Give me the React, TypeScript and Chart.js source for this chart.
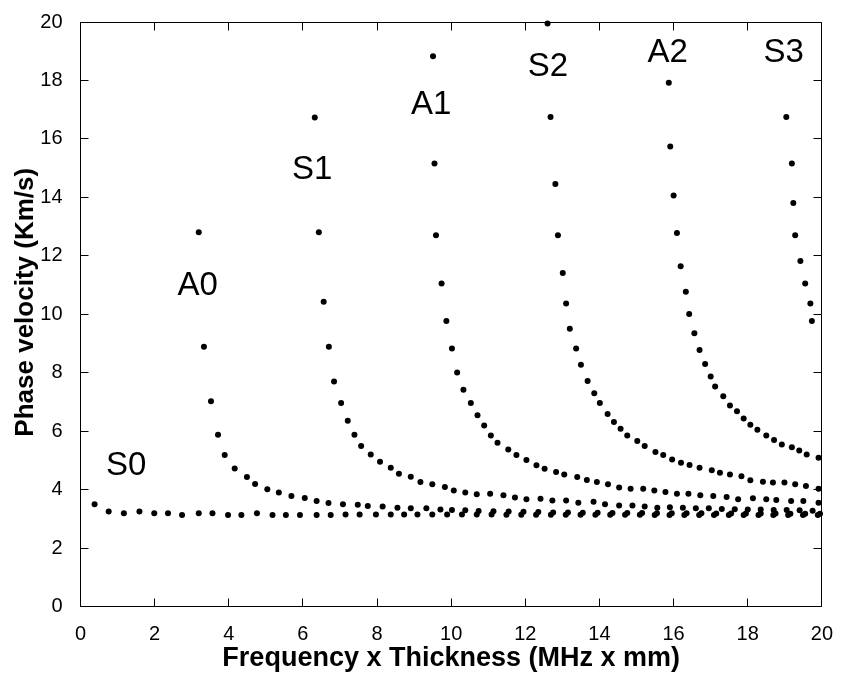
import React, { useEffect, useRef } from "react";
import { Chart, registerables } from "chart.js";

Chart.register(...registerables);

// ---- data (Frequency x Thickness [MHz mm], Phase velocity [km/s]) ----
const modeS0: [number, number][] = [
  [0.38, 3.5], [0.76, 3.25], [1.17, 3.19], [1.59, 3.25], [1.99, 3.19], [2.36, 3.19], [2.74, 3.13],
  [3.19, 3.19], [3.56, 3.19], [3.98, 3.13], [4.34, 3.13], [4.76, 3.19], [5.18, 3.13], [5.54, 3.13],
  [5.92, 3.13], [6.37, 3.13], [6.75, 3.13], [7.15, 3.15], [7.53, 3.15], [7.97, 3.15], [8.37, 3.15],
  [8.73, 3.15], [9.09, 3.15], [9.49, 3.15], [9.89, 3.15], [10.29, 3.15], [10.69, 3.15], [11.09, 3.15],
  [11.49, 3.14], [11.89, 3.14], [12.29, 3.14], [12.69, 3.14], [13.09, 3.14], [13.49, 3.14], [13.89, 3.14],
  [14.29, 3.14], [14.69, 3.14], [15.09, 3.14], [15.49, 3.13], [15.89, 3.13], [16.29, 3.13], [16.69, 3.13],
  [17.09, 3.13], [17.49, 3.13], [17.89, 3.13], [18.29, 3.13], [18.69, 3.13], [19.09, 3.13], [19.49, 3.13],
  [19.89, 3.13],
];

const modeA0: [number, number][] = [
  [3.19, 12.81], [3.33, 8.89], [3.52, 7.02], [3.71, 5.88], [3.89, 5.18], [4.16, 4.72], [4.49, 4.43],
  [4.71, 4.19], [5.04, 4.01], [5.35, 3.9], [5.69, 3.78], [6.05, 3.71], [6.37, 3.61], [6.69, 3.54],
  [7.08, 3.5], [7.48, 3.48], [7.75, 3.44], [8.15, 3.42], [8.55, 3.38], [8.91, 3.36], [9.33, 3.36],
  [9.71, 3.32], [10.02, 3.3], [10.38, 3.29], [10.74, 3.27], [11.14, 3.26], [11.55, 3.25], [11.95, 3.24],
  [12.35, 3.23], [12.75, 3.22], [13.15, 3.22], [13.55, 3.21], [13.95, 3.21], [14.35, 3.2], [14.75, 3.2],
  [15.15, 3.2], [15.55, 3.19], [15.95, 3.19], [16.35, 3.19], [16.75, 3.19], [17.15, 3.18], [17.55, 3.18],
  [17.95, 3.18], [18.35, 3.18], [18.75, 3.18], [19.15, 3.17], [19.55, 3.17], [19.95, 3.17],
];

const modeS1: [number, number][] = [
  [6.32, 16.73], [6.43, 12.81], [6.56, 10.43], [6.7, 8.89], [6.84, 7.7], [7.03, 6.96], [7.21, 6.36],
  [7.39, 5.88], [7.57, 5.49], [7.83, 5.2], [8.08, 4.95], [8.37, 4.75], [8.59, 4.54], [8.91, 4.44],
  [9.17, 4.26], [9.49, 4.18], [9.83, 4.09], [10.07, 3.97], [10.38, 3.9], [10.69, 3.84], [11.05, 3.86],
  [11.41, 3.81], [11.72, 3.73], [12.03, 3.67], [12.41, 3.69], [12.73, 3.63], [13.1, 3.63], [13.43, 3.55],
  [13.84, 3.58], [14.15, 3.5], [14.53, 3.46], [14.89, 3.46], [15.22, 3.42], [15.56, 3.38], [15.9, 3.4],
  [16.25, 3.38], [16.6, 3.36], [16.95, 3.36], [17.3, 3.34], [17.65, 3.33], [18.0, 3.32], [18.35, 3.32],
  [18.7, 3.3], [19.05, 3.3], [19.4, 3.29], [19.75, 3.28],
];

const modeA1: [number, number][] = [
  [9.51, 18.83], [9.55, 15.16], [9.59, 12.7], [9.74, 11.05], [9.87, 9.77], [10.02, 8.83], [10.16, 8.01],
  [10.33, 7.42], [10.53, 6.96], [10.71, 6.54], [10.89, 6.19], [11.07, 5.85], [11.25, 5.6], [11.54, 5.37],
  [11.76, 5.18], [12.03, 5.01], [12.3, 4.83], [12.52, 4.71], [12.83, 4.6], [13.05, 4.52], [13.4, 4.43],
  [13.66, 4.33], [13.93, 4.26], [14.23, 4.18], [14.53, 4.07], [14.84, 4.03], [15.18, 4.03], [15.48, 3.97],
  [15.78, 3.92], [16.09, 3.86], [16.4, 3.86], [16.72, 3.81], [17.07, 3.78], [17.43, 3.75], [17.74, 3.67],
  [18.14, 3.7], [18.5, 3.67], [18.77, 3.64], [19.17, 3.61], [19.5, 3.61], [19.91, 3.55],
];

const modeS2: [number, number][] = [
  [12.6, 19.95], [12.68, 16.75], [12.81, 14.46], [12.88, 12.7], [13.01, 11.41], [13.1, 10.37], [13.2, 9.5],
  [13.37, 8.83], [13.5, 8.27], [13.68, 7.72], [13.86, 7.3], [14.01, 6.96], [14.22, 6.59], [14.39, 6.31],
  [14.57, 6.08], [14.75, 5.85], [15.02, 5.66], [15.22, 5.49], [15.51, 5.29], [15.72, 5.18], [15.96, 5.03],
  [16.2, 4.92], [16.43, 4.84], [16.7, 4.75], [17.03, 4.66], [17.25, 4.58], [17.52, 4.52], [17.83, 4.46],
  [18.07, 4.32], [18.41, 4.27], [18.68, 4.24], [18.99, 4.24], [19.28, 4.18], [19.57, 4.12], [19.91, 4.03],
];

const modeA2: [number, number][] = [
  [15.87, 17.92], [15.91, 15.74], [16.0, 14.06], [16.09, 12.78], [16.19, 11.64], [16.33, 10.77],
  [16.42, 10.01], [16.56, 9.35], [16.7, 8.78], [16.85, 8.3], [17.0, 7.87], [17.12, 7.53], [17.34, 7.19],
  [17.52, 6.88], [17.71, 6.68], [17.89, 6.43], [18.07, 6.22], [18.26, 6.05], [18.5, 5.85], [18.71, 5.7],
  [18.92, 5.54], [19.19, 5.45], [19.39, 5.34], [19.59, 5.2], [19.91, 5.09],
];

const modeS3: [number, number][] = [
  [19.04, 16.75], [19.19, 15.16], [19.23, 13.81], [19.28, 12.7], [19.42, 11.82], [19.55, 11.05],
  [19.69, 10.37], [19.73, 9.77],
];

const modeNames = ["S0", "A0", "S1", "A1", "S2", "A2", "S3"];
const modeLabelX = [1.23, 3.16, 6.25, 9.46, 12.61, 15.84, 18.97];
const modeLabelY = [4.82, 10.96, 14.94, 17.16, 18.45, 18.93, 18.93];

const tickValues = [0, 2, 4, 6, 8, 10, 12, 14, 16, 18, 20];
const xTitle = "Frequency x Thickness (MHz x mm)";
const yTitle = "Phase velocity (Km/s)";

const FONT = '"Liberation Sans", Arial, Helvetica, sans-serif';

const framePlugin = {
  id: "matlabFrame",
  afterDatasetsDraw(chart: any) {
    const { ctx, chartArea, scales } = chart;
    const { left, right, top, bottom } = chartArea;
    const xs = scales.x;
    const ys = scales.y;
    const a = (v: number) => Math.round(v - 0.5) + 0.5;
    const L = a(left), R = a(right), T = a(top), B = a(bottom);
    const tl = 8;
    ctx.save();
    ctx.strokeStyle = "#000";
    ctx.lineWidth = 1;
    ctx.beginPath();
    ctx.rect(L, T, R - L, B - T);
    for (const v of tickValues) {
      const px = a(xs.getPixelForValue(v));
      ctx.moveTo(px, B);
      ctx.lineTo(px, B - tl);
      ctx.moveTo(px, T);
      ctx.lineTo(px, T + tl);
      const py = a(ys.getPixelForValue(v));
      ctx.moveTo(L, py);
      ctx.lineTo(L + tl, py);
      ctx.moveTo(R, py);
      ctx.lineTo(R - tl, py);
    }
    ctx.stroke();
    ctx.fillStyle = "#000";
    ctx.font = `33px ${FONT}`;
    ctx.textAlign = "center";
    ctx.textBaseline = "middle";
    modeNames.forEach((name, i) => {
      ctx.fillText(name, xs.getPixelForValue(modeLabelX[i]), ys.getPixelForValue(modeLabelY[i]));
    });
    // y axis title (slightly above the axis centre, as in the reference)
    ctx.font = `bold 26px ${FONT}`;
    ctx.translate(26, (top + bottom) / 2 - 12);
    ctx.rotate(-Math.PI / 2);
    ctx.fillText(yTitle, 0, 0);
    ctx.restore();
  },
};

const series = [modeS0, modeA0, modeS1, modeA1, modeS2, modeA2, modeS3];

export default function App() {
  const canvasRef = useRef<HTMLCanvasElement | null>(null);

  useEffect(() => {
    document.body.style.margin = "0";
    const canvas = canvasRef.current;
    if (!canvas) return;
    const chart = new Chart(canvas, {
      type: "scatter",
      data: {
        datasets: series.map((s, i) => ({
          label: modeNames[i],
          data: s.map(([x, y]) => ({ x, y })),
          backgroundColor: "#000",
          borderColor: "#000",
          pointRadius: 3,
          pointBorderWidth: 0,
          pointHoverRadius: 3,
          clip: false as any,
        })),
      },
      options: {
        animation: false,
        responsive: false,
        maintainAspectRatio: false,
        devicePixelRatio: 1,
        events: [],
        layout: { padding: { left: 0, right: 13.5, top: 19, bottom: 0 } },
        plugins: {
          legend: { display: false },
          tooltip: { enabled: false },
        },
        scales: {
          x: {
            type: "linear",
            min: 0,
            max: 20,
            afterBuildTicks: (scale: any) => {
              scale.ticks = tickValues.map((v) => ({ value: v }));
            },
            afterFit: (scale: any) => {
              scale.height = 72.5;
            },
            grid: { display: false },
            border: { display: false },
            ticks: {
              color: "#000",
              font: { family: FONT, size: 20 },
              padding: 8,
              maxRotation: 0,
              autoSkip: false,
            },
            title: {
              display: true,
              text: xTitle,
              color: "#000",
              font: { family: FONT, size: 27, weight: "bold" },
              padding: { top: 0, bottom: 4 },
            },
          },
          y: {
            type: "linear",
            min: 0,
            max: 20,
            afterBuildTicks: (scale: any) => {
              scale.ticks = tickValues.map((v) => ({ value: v }));
            },
            afterFit: (scale: any) => {
              scale.width = 80.5;
            },
            grid: { display: false },
            border: { display: false },
            ticks: {
              color: "#000",
              font: { family: FONT, size: 20 },
              padding: 10,
              autoSkip: false,
            },
            title: { display: false, text: yTitle },
          },
        },
      },
      plugins: [framePlugin],
    });
    return () => chart.destroy();
  }, []);

  return (
    <div style={{ position: "absolute", left: 0, top: 0, width: 841, height: 679, background: "#fff" }}>
      <canvas ref={canvasRef} width={841} height={679} style={{ display: "block" }} />
    </div>
  );
}
